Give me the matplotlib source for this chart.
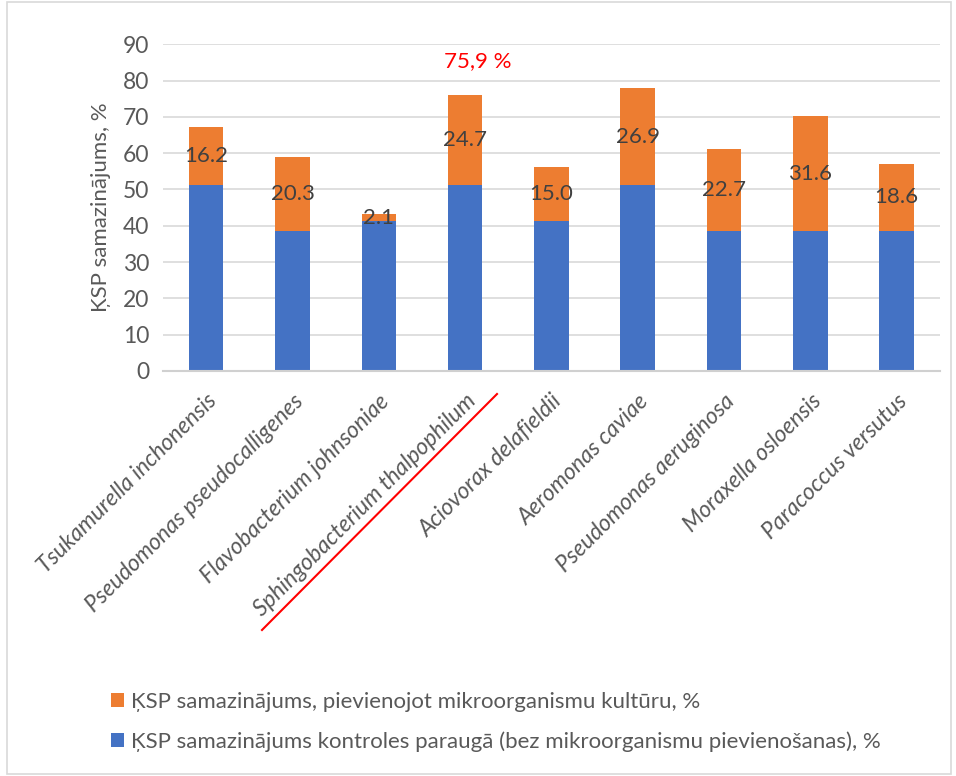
import matplotlib.pyplot as plt
from matplotlib.patches import Rectangle
from matplotlib.lines import Line2D

plt.rcParams['font.family'] = ['Lato', 'DejaVu Sans']

# Data
species = [
    "Tsukamurella inchonensis",
    "Pseudomonas pseudocalligenes",
    "Flavobacterium johnsoniae",
    "Sphingobacterium thalpophilum",
    "Aciovorax delafieldii",
    "Aeromonas caviae",
    "Pseudomonas aeruginosa",
    "Moraxella osloensis",
    "Paracoccus versutus",
]
control = [51.1, 38.5, 41.2, 51.2, 41.2, 51.1, 38.5, 38.5, 38.5]
added = [16.2, 20.3, 2.1, 24.7, 15.0, 26.9, 22.7, 31.6, 18.6]
highlight_total = "75,9 %"
yticks = list(range(0, 100, 10))

label_added = "ĶSP samazinājums, pievienojot mikroorganismu kultūru, %"
label_control = "ĶSP samazinājums kontroles paraugā (bez mikroorganismu pievienošanas), %"

blue = "#4472C4"
orange = "#ED7D31"
grey_text = "#595959"

fig = plt.figure(figsize=(9.56, 7.76), dpi=100)
ax = fig.add_axes([0.1705, 0.522, 0.8125, 0.421])

x = range(len(species))
b1 = ax.bar(x, control, width=0.4, color=blue, label=label_control, zorder=3)
b2 = ax.bar(x, added, width=0.4, bottom=control, color=orange, label=label_added, zorder=3)

# labels in the middle of the orange parts
for i in x:
    ax.text(i, control[i] + added[i] / 2, f"{added[i]:.1f}", ha="center", va="center",
            fontsize=16, color="#404040", zorder=4)

ax.set_xlim(-0.5, len(species) - 0.5)
ax.set_ylim(0, 90)
ax.set_yticks(yticks)
ax.yaxis.grid(True, color="#d9d9d9", linewidth=1.2, zorder=0)
ax.tick_params(axis="y", length=0, labelsize=16.5, labelcolor=grey_text, pad=10)
ax.tick_params(axis="x", length=0, pad=14)
ax.set_xticks(list(x))
ax.set_xticklabels(species, rotation=45, ha="right", rotation_mode="anchor",
                   fontsize=16.5, style="italic", color=grey_text)
for s in ["top", "right", "left"]:
    ax.spines[s].set_visible(False)
ax.spines["bottom"].set_color("#d0d0d0")
ax.spines["bottom"].set_linewidth(1.5)
ax.spines["bottom"].set_zorder(5)

ax.set_ylabel("ĶSP samazinājums, %", fontsize=16, color=grey_text, labelpad=8)

# highlight annotation
ax.text(3.15, 85.3, highlight_total, color="red", fontsize=16, ha="center", va="center")
fig.add_artist(Line2D([262 / 956, 497 / 956], [1 - 630 / 776, 1 - 394 / 776],
                      color="red", linewidth=1.5))

# legend
handles = [b2, b1]
fig.legend(handles, [label_added, label_control], loc="lower left",
           bbox_to_anchor=(0.095, 0.005), frameon=False, fontsize=16,
           labelcolor=grey_text, handlelength=0.6, handleheight=0.6,
           handletextpad=0.3, labelspacing=0.9)

# chart frame
fig.add_artist(Rectangle((0.007, 0.003), 0.988, 0.994, transform=fig.transFigure,
                         fill=False, edgecolor="#d9d9d9", linewidth=1.2))

fig.savefig("out.png", dpi=100)
